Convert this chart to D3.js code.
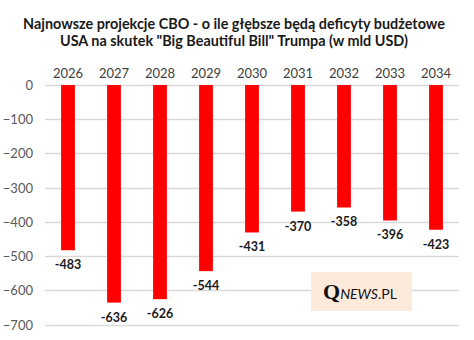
<!DOCTYPE html>
<html>
<head>
<meta charset="utf-8">
<script src="https://cdn.jsdelivr.net/npm/d3@7"></script>
<style>
  body { margin: 0; background: #fff; }
  svg { display: block; font-family: Lato, "Open Sans", sans-serif; }
</style>
</head>
<body>
<div id="chart"></div>
<script>
// deficyty wg lat (mld USD)
const years = ["2026", "2027", "2028", "2029", "2030", "2031", "2032", "2033", "2034"];
const deficits = [-483, -636, -626, -544, -431, -370, -358, -396, -423];
const yTicks = [0, -100, -200, -300, -400, -500, -600, -700];
const titleLines = [
  "Najnowsze projekcje CBO - o ile głębsze będą deficyty budżetowe",
  "USA na skutek \"Big Beautiful Bill\" Trumpa (w mld USD)"
];

const width = 474, height = 340;
const margin = { top: 85, right: 15, bottom: 15, left: 45 };

const svg = d3.select("#chart").append("svg")
  .attr("width", width)
  .attr("height", height);

// tytuł
svg.append("g").selectAll("text")
  .data(titleLines)
  .enter().append("text")
  .attr("x", width / 2 - 3)
  .attr("y", (d, i) => 29 + i * 17)
  .attr("text-anchor", "middle")
  .style("font-size", "14.4px")
  .style("font-weight", "bold")
  .style("fill", "#1a1a1a")
  .text(d => d);

const x = d3.scaleBand()
  .domain(years)
  .range([margin.left, width - margin.right])
  .paddingInner(0.7)
  .paddingOuter(0.35);

const y = d3.scaleLinear()
  .domain([0, -700])
  .range([margin.top, 324.5]);

// linie siatki
svg.append("g").selectAll("line")
  .data(yTicks)
  .enter().append("line")
  .attr("x1", margin.left)
  .attr("x2", width - margin.right)
  .attr("y1", d => Math.round(y(d)) + 0.5)
  .attr("y2", d => Math.round(y(d)) + 0.5)
  .attr("stroke", "#d9d9d9")
  .attr("stroke-width", 1.3);

// oś Y
const yAxis = svg.append("g")
  .attr("transform", `translate(${margin.left - 12},0)`)
  .call(d3.axisLeft(y).tickValues(yTicks).tickSize(0).tickPadding(0).tickFormat(d3.format("d")));
yAxis.select(".domain").remove();
yAxis.selectAll("text")
  .style("font-size", "13px")
  .style("font-family", "Lato, 'Open Sans', sans-serif")
  .attr("fill", "#595959")
  .attr("dy", "0.35em");

// oś X (lata nad wykresem)
const xAxis = svg.append("g")
  .attr("transform", `translate(0,${margin.top - 7})`)
  .call(d3.axisTop(x).tickSize(0).tickPadding(0));
xAxis.select(".domain").remove();
xAxis.selectAll("text")
  .style("font-size", "13px")
  .style("font-family", "Lato, 'Open Sans', sans-serif")
  .attr("fill", "#404040");

// słupki
svg.append("g").selectAll("rect")
  .data(deficits)
  .enter().append("rect")
  .attr("x", (d, i) => x(years[i]))
  .attr("y", y(0))
  .attr("width", x.bandwidth())
  .attr("height", d => y(d) - y(0))
  .attr("fill", "#ff0000");

// etykiety wartości
svg.append("g").selectAll("text")
  .data(deficits)
  .enter().append("text")
  .attr("x", (d, i) => x(years[i]) + x.bandwidth() / 2)
  .attr("y", d => y(d) + 19)
  .attr("text-anchor", "middle")
  .style("font-size", "12.5px")
  .style("font-weight", "bold")
  .style("fill", "#1a1a1a")
  .text(d => d);

// znak wodny QNEWS.PL
const logo = svg.append("g").attr("transform", "translate(311,272)");
logo.append("rect")
  .attr("width", 101)
  .attr("height", 39)
  .attr("fill", "#fdeadb");
const logoText = logo.append("text")
  .attr("x", 12)
  .attr("y", 27)
  .style("fill", "#111");
logoText.append("tspan")
  .style("font-family", "'Liberation Serif', 'DejaVu Serif', serif")
  .style("font-weight", "bold")
  .style("font-size", "22px")
  .text("Q");
logoText.append("tspan")
  .style("font-family", "Lato, 'Open Sans', sans-serif")
  .style("font-style", "italic")
  .style("font-size", "14px")
  .text("NEWS");
logoText.append("tspan")
  .style("font-family", "Lato, 'Open Sans', sans-serif")
  .style("font-size", "14px")
  .text(".PL");
</script>
</body>
</html>
